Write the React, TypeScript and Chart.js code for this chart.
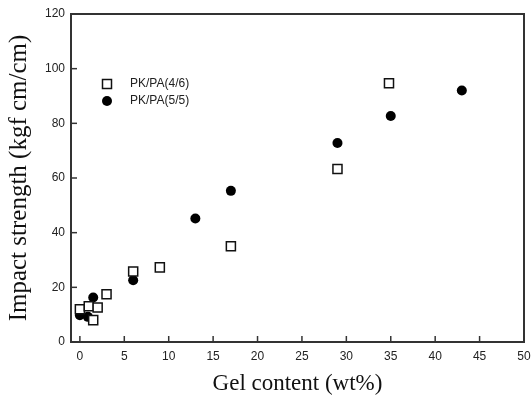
import React, { useEffect, useRef } from "react";
import { Chart, registerables } from "chart.js";

Chart.register(...registerables);

const seriesALabel = "PK/PA(4/6)";
const seriesAX = [0, 1, 2, 1.5, 3, 6, 9, 17, 29, 34.8];
const seriesAY = [12, 13.1, 12.6, 8, 17.5, 25.8, 27.3, 35, 63.3, 94.7];

const seriesBLabel = "PK/PA(5/5)";
const seriesBX = [0, 0.9, 1.5, 6, 13, 17, 29, 35, 43];
const seriesBY = [9.8, 9.2, 16.3, 22.6, 45.2, 55.3, 72.8, 82.7, 92];

const xTitle = "Gel content (wt%)";
const yTitle = "Impact strength (kgf cm/cm)";
const xTickValues = [0, 5, 10, 15, 20, 25, 30, 35, 40, 45, 50];
const yTickValues = [0, 20, 40, 60, 80, 100, 120];
const xMin = -1, xMax = 50;
const yMin = 0, yMax = 120;

const AXIS_COLOR = "#333";
const TICK_COLOR = "#222";
const TICK_FONT = "'Liberation Sans', Arial, sans-serif";
const TITLE_FONT = "'Liberation Serif', 'Times New Roman', serif";

const framePlugin = {
  id: "frame",
  afterDraw(chart: any) {
    const { ctx, chartArea } = chart;
    const { left, right, top, bottom } = chartArea;
    ctx.save();
    ctx.strokeStyle = AXIS_COLOR;
    ctx.lineWidth = 2;
    ctx.strokeRect(left, top, right - left, bottom - top);
    ctx.lineWidth = 1.5;
    const xs = chart.scales.x;
    xs.ticks.forEach((t: any) => {
      const px = xs.getPixelForValue(t.value);
      ctx.beginPath();
      ctx.moveTo(px, bottom);
      ctx.lineTo(px, bottom - 6);
      ctx.stroke();
    });
    const ys = chart.scales.y;
    ys.ticks.forEach((t: any) => {
      const py = ys.getPixelForValue(t.value);
      ctx.beginPath();
      ctx.moveTo(left, py);
      ctx.lineTo(left + 6, py);
      ctx.stroke();
    });
    const lx = left + 36;
    const ly1 = top + 70;
    const ly2 = top + 87;
    ctx.lineWidth = 1.5;
    ctx.strokeStyle = "#111";
    ctx.fillStyle = "#fff";
    ctx.beginPath();
    ctx.rect(lx - 4.5, ly1 - 4.5, 9, 9);
    ctx.fill();
    ctx.stroke();
    ctx.fillStyle = "#000";
    ctx.beginPath();
    ctx.arc(lx, ly2, 5, 0, Math.PI * 2);
    ctx.fill();
    ctx.fillStyle = TICK_COLOR;
    ctx.font = `12px ${TICK_FONT}`;
    ctx.textBaseline = "middle";
    ctx.textAlign = "left";
    ctx.fillText(seriesALabel, lx + 23, ly1);
    ctx.fillText(seriesBLabel, lx + 23, ly2);
    ctx.restore();
  },
};

export default function App() {
  const ref = useRef<HTMLCanvasElement>(null);
  useEffect(() => {
    document.body.style.margin = "0";
    const chart = new Chart(ref.current!, {
      type: "scatter",
      data: {
        datasets: [
          {
            label: seriesALabel,
            data: seriesAX.map((x, i) => ({ x, y: seriesAY[i] })),
            pointStyle: "rect",
            pointRadius: 6.4,
            backgroundColor: "#fff",
            borderColor: "#111",
            borderWidth: 1.5,
          },
          {
            label: seriesBLabel,
            data: seriesBX.map((x, i) => ({ x, y: seriesBY[i] })),
            pointStyle: "circle",
            pointRadius: 5,
            backgroundColor: "#000",
            borderColor: "#000",
            borderWidth: 0,
          },
        ],
      },
      options: {
        animation: false,
        responsive: false,
        layout: { padding: { top: 14, right: 8, left: 0, bottom: 0 } },
        plugins: { legend: { display: false }, tooltip: { enabled: false } },
        scales: {
          x: {
            type: "linear",
            min: xMin,
            max: xMax,
            afterBuildTicks: (s: any) => {
              s.ticks = xTickValues.map((v) => ({ value: v }));
            },
            afterFit: (s: any) => {
              s.height = 58;
              s.paddingLeft = 0;
              s.paddingRight = 0;
            },
            ticks: {
              color: TICK_COLOR,
              font: { family: TICK_FONT, size: 12 },
              padding: 7,
              maxRotation: 0,
              autoSkip: false,
            },
            grid: { display: false, drawTicks: false },
            border: { display: false },
            title: {
              display: true,
              text: xTitle,
              color: "#111",
              font: { family: TITLE_FONT, size: 23 },
              padding: { top: 2, bottom: 2 },
            },
          },
          y: {
            type: "linear",
            min: yMin,
            max: yMax,
            afterBuildTicks: (s: any) => {
              s.ticks = yTickValues.map((v) => ({ value: v }));
            },
            afterFit: (s: any) => {
              s.width = 71;
              s.paddingTop = 0;
              s.paddingBottom = 0;
            },
            ticks: {
              color: TICK_COLOR,
              font: { family: TICK_FONT, size: 12 },
              padding: 6,
              autoSkip: false,
            },
            grid: { display: false, drawTicks: false },
            border: { display: false },
            title: {
              display: true,
              text: yTitle,
              color: "#111",
              font: { family: TITLE_FONT, size: 25 },
              padding: { top: 4, bottom: 4 },
            },
          },
        },
      },
      plugins: [framePlugin],
    });
    return () => chart.destroy();
  }, []);
  return (
    <div style={{ width: 532, height: 400 }}>
      <canvas ref={ref} width={532} height={400} style={{ display: "block" }} />
    </div>
  );
}
